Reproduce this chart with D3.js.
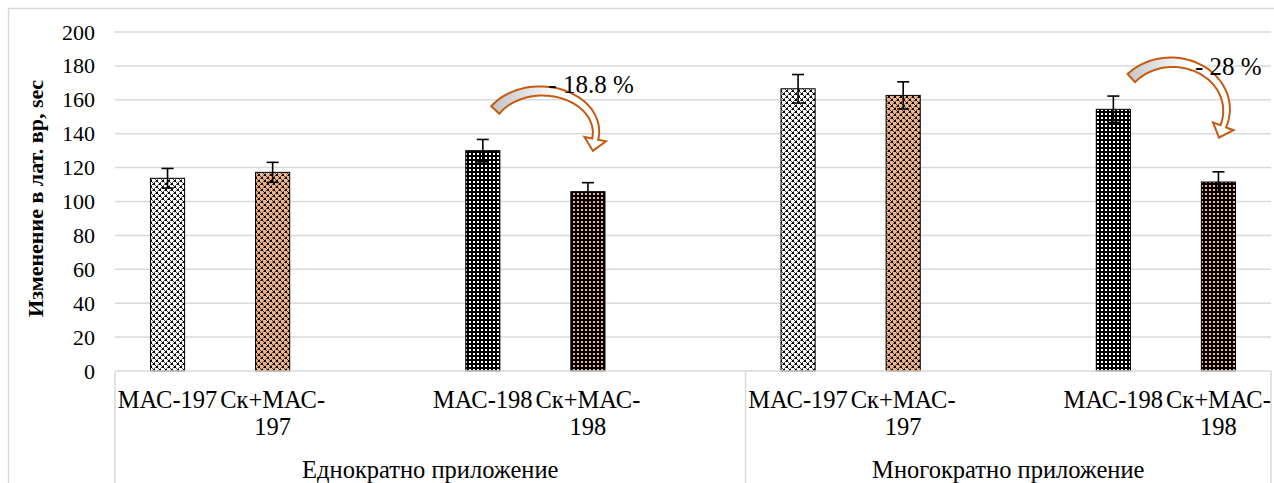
<!DOCTYPE html>
<html>
<head>
<meta charset="utf-8">
<script src="https://cdn.jsdelivr.net/npm/d3@7"></script>
<style>
  body { margin: 0; background: #fff; }
</style>
</head>
<body>
<div id="chart"></div>
<script>
// Category table as in the source sheet (blank cells leave empty slots)
const groups = ["Еднократно приложение", "Многократно приложение"];
const groupCats = [
    ["МАС-197", "Ск+МАС-197", "", "МАС-198", "Ск+МАС-198", ""],
    ["МАС-197", "Ск+МАС-197", "", "МАС-198", "Ск+МАС-198"]
];
const valuesSingle = [113.7, 117.2, null, 130.0, 105.8, null];
const errorsSingle = [5.8, 5.9, null, 6.6, 5.3, null];
const valuesMulti = [166.5, 162.6, null, 154.4, 111.5];
const errorsMulti = [8.4, 8.0, null, 7.8, 6.0];
const yTicks = [0, 20, 40, 60, 80, 100, 120, 140, 160, 180, 200];
const yTitle = "Изменение в лат. вр, sec";

// change annotations: from bar -> to bar inside a group
const changes = [
    { group: 0, from: 3, to: 4, label: "- 18.8 %", cyVal: 141, ry: 41, t0: 147.5, t1: -10, ldx: 7, ldy: 2 },
    { group: 1, from: 3, to: 4, label: "- 28 %", cyVal: 154, ry: 47.7, t0: 138, t1: -20, ldx: 23, ldy: 13 }
];

const FONT = "'Liberation Serif', Tinos, 'Times New Roman', Times, 'DejaVu Serif', serif";
const W = 1274, H = 483;
const plot = { left: 115, right: 1271, top: 32, bottom: 371 };

const svg = d3.select("#chart").append("svg")
    .attr("width", W).attr("height", H)
    .style("font-family", FONT);

// outer chart frame
svg.append("rect")
    .attr("x", 8.5).attr("y", 8.5)
    .attr("width", W).attr("height", H)
    .attr("fill", "none").attr("stroke", "#d9d9d9").attr("stroke-width", 1.5);

// patterns
const defs = svg.append("defs");
function dotPattern(id, bg) {
    const p = defs.append("pattern").attr("id", id)
        .attr("patternUnits", "userSpaceOnUse").attr("width", 6).attr("height", 6);
    p.append("rect").attr("width", 6).attr("height", 6).attr("fill", bg);
    [[0, 0, 2, "#000"], [3, 3, 2, "#000"], [2, 2, 1, "#444"], [5, 5, 1, "#444"],
     [5, 1, 1, "#555"], [2, 4, 1, "#555"], [1, 5, 1, "#666"], [4, 2, 1, "#666"]].forEach(([x, y, s, c]) =>
        p.append("rect").attr("x", x).attr("y", y).attr("width", s).attr("height", s).attr("fill", c));
}
function gridPattern(id, dot) {
    const p = defs.append("pattern").attr("id", id)
        .attr("patternUnits", "userSpaceOnUse").attr("width", 4).attr("height", 4);
    p.append("rect").attr("width", 4).attr("height", 4).attr("fill", "#000");
    p.append("rect").attr("x", 1).attr("y", 1).attr("width", 2).attr("height", 2).attr("fill", dot);
}
dotPattern("p197", "#fff");
dotPattern("pSk197", "#f4b183");
gridPattern("p198", "#fff");
gridPattern("pSk198", "#f4b183");
const fillFor = {
    "МАС-197": "url(#p197)", "Ск+МАС-197": "url(#pSk197)",
    "МАС-198": "url(#p198)", "Ск+МАС-198": "url(#pSk198)"
};

// slots
const slots = [];
groupCats.forEach((cats, g) => cats.forEach((c, i) => slots.push({
    key: g + "-" + i, group: g, idx: i, cat: c,
    value: g === 0 ? valuesSingle[i] : valuesMulti[i],
    err: g === 0 ? errorsSingle[i] : errorsMulti[i]
})));

const x = d3.scaleBand().domain(slots.map(d => d.key)).range([plot.left, plot.right]).padding(0);
const y = d3.scaleLinear().domain([0, 200]).range([plot.bottom, plot.top]);
const barW = x.bandwidth() * 0.325;

// gridlines
svg.append("g").selectAll("line").data(yTicks.filter(t => t > 0)).join("line")
    .attr("x1", plot.left).attr("x2", plot.right)
    .attr("y1", d => y(d)).attr("y2", d => y(d))
    .attr("stroke", "#d9d9d9").attr("stroke-width", 1.5);

// y axis labels
const yAxis = svg.append("g").attr("transform", `translate(${plot.left},0)`)
    .call(d3.axisLeft(y).tickValues(yTicks).tickSize(0).tickPadding(20));
yAxis.attr("font-family", null).attr("font-size", null);
yAxis.select(".domain").remove();
yAxis.selectAll("text").attr("font-size", 22).attr("fill", "#000").style("font-family", FONT);

svg.append("text")
    .attr("transform", `translate(43,${(plot.top + plot.bottom) / 2 - 3}) rotate(-90)`)
    .attr("text-anchor", "middle").attr("font-size", 22).attr("font-weight", "bold")
    .style("font-family", FONT)
    .text(yTitle);

// bars
const bars = slots.filter(d => d.value != null);
svg.append("g").selectAll("rect").data(bars).join("rect")
    .attr("x", d => x(d.key) + (x.bandwidth() - barW) / 2)
    .attr("y", d => y(d.value))
    .attr("width", barW)
    .attr("height", d => y(0) - y(d.value))
    .attr("fill", d => fillFor[d.cat])
    .attr("stroke", "#000").attr("stroke-width", 1);

// error bars
const eb = svg.append("g").attr("stroke", "#000").attr("stroke-width", 1.6);
bars.forEach(d => {
    const cx = x(d.key) + x.bandwidth() / 2;
    eb.append("line").attr("x1", cx).attr("x2", cx).attr("y1", y(d.value + d.err)).attr("y2", y(d.value - d.err));
    [d.value + d.err, d.value - d.err].forEach(v =>
        eb.append("line").attr("x1", cx - 6).attr("x2", cx + 6).attr("y1", y(v)).attr("y2", y(v)));
});

// category axis
const ax = svg.append("g").attr("stroke", "#d9d9d9").attr("stroke-width", 1.5);
ax.append("line").attr("x1", plot.left).attr("x2", plot.right).attr("y1", plot.bottom).attr("y2", plot.bottom);
const groupBounds = groups.map((g, gi) => {
    const ks = slots.filter(s => s.group === gi);
    return [x(ks[0].key), x(ks[ks.length - 1].key) + x.bandwidth()];
});
const seps = [groupBounds[0][0], groupBounds[0][1], groupBounds[1][1]];
seps.forEach(sx => ax.append("line").attr("x1", sx).attr("x2", sx).attr("y1", plot.bottom).attr("y2", H));

const catG = svg.append("g").attr("font-size", 24.5).attr("text-anchor", "middle");
slots.filter(d => d.cat).forEach(d => {
    const cx = x(d.key) + x.bandwidth() / 2;
    const t = catG.append("text").attr("x", cx).attr("y", 408).style("font-family", FONT).text(d.cat);
    if (t.node().getComputedTextLength() > x.bandwidth()) {
        const cut = d.cat.lastIndexOf("-") + 1;
        t.text(d.cat.slice(0, cut));
        catG.append("text").attr("x", cx).attr("y", 435).style("font-family", FONT).text(d.cat.slice(cut));
    }
});
svg.append("g").attr("font-size", 24.5).attr("text-anchor", "middle")
    .selectAll("text").data(groups).join("text")
    .attr("x", (d, i) => (groupBounds[i][0] + groupBounds[i][1]) / 2)
    .attr("y", 478).style("font-family", FONT).text(d => d);

// curved arrows
function arrowPath(cx, cy, rx, ry, t0, t1, h0, h1, headW, headL) {
    const n = 48;
    const pts = d3.range(n + 1).map(i => {
        const t = (t0 + (t1 - t0) * i / n) * Math.PI / 180;
        return [cx + rx * Math.cos(t), cy - ry * Math.sin(t)];
    });
    const outer = [], inner = [];
    let lastN, lastD;
    pts.forEach((p, i) => {
        const q = pts[Math.min(i + 1, n)], r = pts[Math.max(i - 1, 0)];
        let dx = q[0] - r[0], dy = q[1] - r[1];
        const L = Math.hypot(dx, dy); dx /= L; dy /= L;
        let nx = -dy, ny = dx;
        if ((p[0] - cx) * nx + (p[1] - cy) * ny < 0) { nx = -nx; ny = -ny; }
        const h = h0 + (h1 - h0) * i / n;
        outer.push([p[0] + nx * h, p[1] + ny * h]);
        inner.push([p[0] - nx * h, p[1] - ny * h]);
        lastN = [nx, ny]; lastD = [dx, dy];
    });
    const pe = pts[n];
    const wo = [pe[0] + lastN[0] * headW, pe[1] + lastN[1] * headW];
    const wi = [pe[0] - lastN[0] * headW, pe[1] - lastN[1] * headW];
    const tip = [pe[0] + lastD[0] * headL, pe[1] + lastD[1] * headL];
    const all = outer.concat([wo, tip, wi], inner.slice().reverse());
    return "M" + all.map(p => p[0].toFixed(1) + "," + p[1].toFixed(1)).join("L") + "Z";
}

changes.forEach((c, i) => {
    const ka = c.group + "-" + c.from, kb = c.group + "-" + c.to;
    const xa = x(ka) + x.bandwidth() / 2, xb = x(kb) + x.bandwidth() / 2;
    const cx = (xa + xb) / 2 + 6;
    const rx = (xb - xa) * 0.52;
    const cy = y(c.cyVal);
    const grad = defs.append("linearGradient").attr("id", "ag" + i)
        .attr("gradientUnits", "userSpaceOnUse")
        .attr("x1", cx - rx).attr("x2", cx + rx * 0.3).attr("y1", 0).attr("y2", 0);
    grad.append("stop").attr("offset", 0).attr("stop-color", "#bdbdbd");
    grad.append("stop").attr("offset", 1).attr("stop-color", "#ffffff");
    svg.append("path")
        .attr("d", arrowPath(cx, cy, rx, c.ry, c.t0, c.t1, 5.5, 3, 11, 12))
        .attr("fill", `url(#ag${i})`)
        .attr("stroke", "#c55a11").attr("stroke-width", 2).attr("stroke-linejoin", "miter");
    svg.append("text")
        .attr("x", cx + c.ldx).attr("y", cy - c.ry + c.ldy)
        .attr("font-size", 25).style("font-family", FONT).text(c.label);
});
</script>
</body>
</html>
